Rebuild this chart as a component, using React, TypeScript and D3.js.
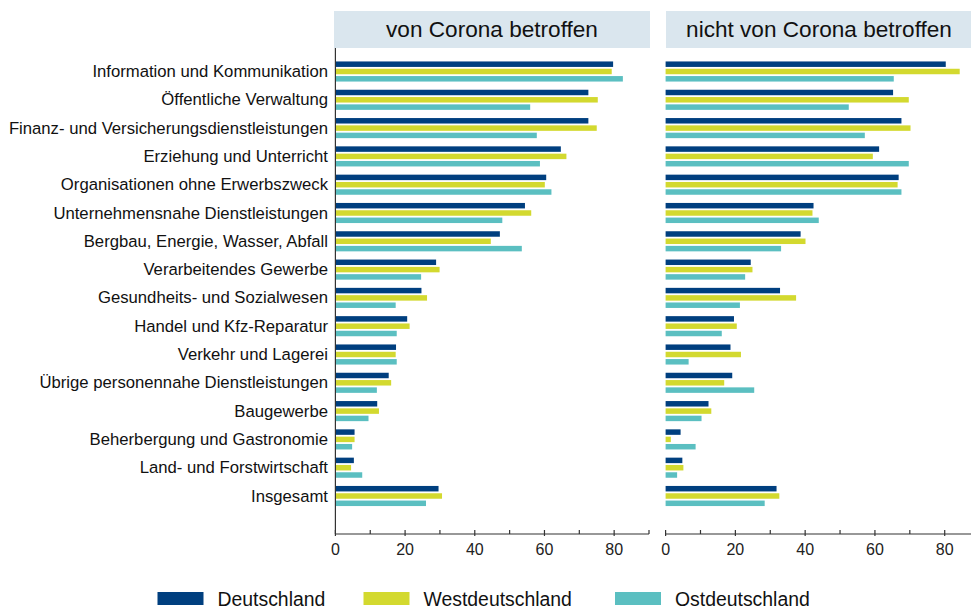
import React from "react";
import * as d3 from "d3";

const categories = [
  "Information und Kommunikation",
  "Öffentliche Verwaltung",
  "Finanz- und Versicherungsdienstleistungen",
  "Erziehung und Unterricht",
  "Organisationen ohne Erwerbszweck",
  "Unternehmensnahe Dienstleistungen",
  "Bergbau, Energie, Wasser, Abfall",
  "Verarbeitendes Gewerbe",
  "Gesundheits- und Sozialwesen",
  "Handel und Kfz-Reparatur",
  "Verkehr und Lagerei",
  "Übrige personennahe Dienstleistungen",
  "Baugewerbe",
  "Beherbergung und Gastronomie",
  "Land- und Forstwirtschaft",
  "Insgesamt",
];

const seriesNames = ["Deutschland", "Westdeutschland", "Ostdeutschland"];
const seriesColors = ["#003f7f", "#d3d92f", "#5bbfc1"];

const panelTitles = ["von Corona betroffen", "nicht von Corona betroffen"];

// von Corona betroffen
const affectedDE = [79.7, 72.6, 72.6, 64.7, 60.5, 54.4, 47.2, 28.9, 24.7, 20.6, 17.4, 15.3, 12.0, 5.5, 5.3, 29.6];
const affectedWest = [79.3, 75.3, 75.0, 66.3, 60.1, 56.2, 44.6, 29.9, 26.3, 21.3, 17.3, 16.0, 12.5, 5.5, 4.5, 30.6];
const affectedEast = [82.5, 55.9, 57.8, 58.7, 62.0, 47.9, 53.5, 24.6, 17.3, 17.6, 17.6, 11.9, 9.5, 4.8, 7.7, 26.0];

// nicht von Corona betroffen
const notAffectedDE = [80.3, 65.2, 67.6, 61.2, 66.8, 42.4, 38.7, 24.4, 32.8, 19.6, 18.6, 19.1, 12.3, 4.3, 4.8, 31.8];
const notAffectedWest = [84.3, 69.7, 70.2, 59.4, 66.5, 42.1, 40.1, 24.9, 37.4, 20.4, 21.6, 16.8, 13.1, 1.5, 5.1, 32.6];
const notAffectedEast = [65.4, 52.5, 57.1, 69.7, 67.6, 43.9, 33.1, 22.8, 21.3, 16.1, 6.6, 25.4, 10.3, 8.6, 3.3, 28.4];

const xTicks = [0, 20, 40, 60, 80];
const xMinorTicks = [10, 30, 50, 70, 90];

const panelsData = [
  [affectedDE, affectedWest, affectedEast],
  [notAffectedDE, notAffectedWest, notAffectedEast],
];

const W = 971;
const H = 610;
const FONT = "'Liberation Sans', Arial, sans-serif";

export default function App() {
  const y = d3.scaleBand<string>().domain(categories).range([57.35, 510.15]).paddingInner(0).paddingOuter(0);
  const yInner = d3.scaleBand<string>().domain(seriesNames).range([0, 20.1]).paddingInner(0.25).paddingOuter(0);
  const axisY = 534;
  const panels = [
    { x: d3.scaleLinear().domain([0, 90]).range([335.4, 649]), box: [334, 650] },
    { x: d3.scaleLinear().domain([0, 90]).range([665.6, 979.6]), box: [666, 972] },
  ];

  return (
    <div style={{ position: "absolute", left: 0, top: 0 }}>
      <svg width={W} height={H} style={{ display: "block", fontFamily: FONT }}>
        <rect x={0} y={0} width={W} height={H} fill="#ffffff" />
        {panels.map((p, pi) => (
          <g key={pi}>
            <rect x={p.box[0]} y={11} width={p.box[1] - p.box[0]} height={37} fill="#dae6ee" />
            <text
              x={(p.box[0] + p.box[1]) / 2}
              y={29.5}
              textAnchor="middle"
              dominantBaseline="central"
              fontSize={22.6}
              fill="#111"
            >
              {panelTitles[pi]}
            </text>
            {categories.map((c, ci) => (
              <g key={c}>
                {seriesNames.map((s, si) => {
                  const v = panelsData[pi][si][ci];
                  const top = (y(c) as number) + y.bandwidth() / 2 - 10.05 + (yInner(s) as number);
                  return (
                    <rect
                      key={s}
                      x={p.x(0)}
                      y={top}
                      width={p.x(v) - p.x(0)}
                      height={yInner.bandwidth()}
                      fill={seriesColors[si]}
                    />
                  );
                })}
              </g>
            ))}
            <line x1={p.x(0)} x2={Math.min(p.x(90), W)} y1={axisY} y2={axisY} stroke="#333" strokeWidth={1.2} />
            {xTicks.map((t) => (
              <g key={t}>
                <line x1={p.x(t)} x2={p.x(t)} y1={axisY - 4} y2={axisY + 2} stroke="#333" strokeWidth={1.2} />
                <text x={p.x(t)} y={555} textAnchor="middle" fontSize={16} fill="#222">
                  {t}
                </text>
              </g>
            ))}
            {xMinorTicks.map((t) => (
              <line key={t} x1={p.x(t)} x2={p.x(t)} y1={axisY - 4} y2={axisY} stroke="#333" strokeWidth={1.2} />
            ))}
          </g>
        ))}
        <line x1={335.4} x2={335.4} y1={48} y2={axisY} stroke="#333" strokeWidth={1.2} />
        {categories.map((c) => (
          <text
            key={c}
            x={328}
            y={(y(c) as number) + y.bandwidth() / 2}
            textAnchor="end"
            dominantBaseline="central"
            fontSize={16.7}
            fill="#111"
          >
            {c}
          </text>
        ))}
        {seriesNames.map((s, i) => {
          const lx = [157.5, 363.5, 615][i];
          return (
            <g key={s}>
              <rect x={lx} y={592} width={46} height={13} fill={seriesColors[i]} />
              <text x={lx + 60} y={599} dominantBaseline="central" fontSize={19.4} fill="#111">
                {s}
              </text>
            </g>
          );
        })}
      </svg>
    </div>
  );
}
